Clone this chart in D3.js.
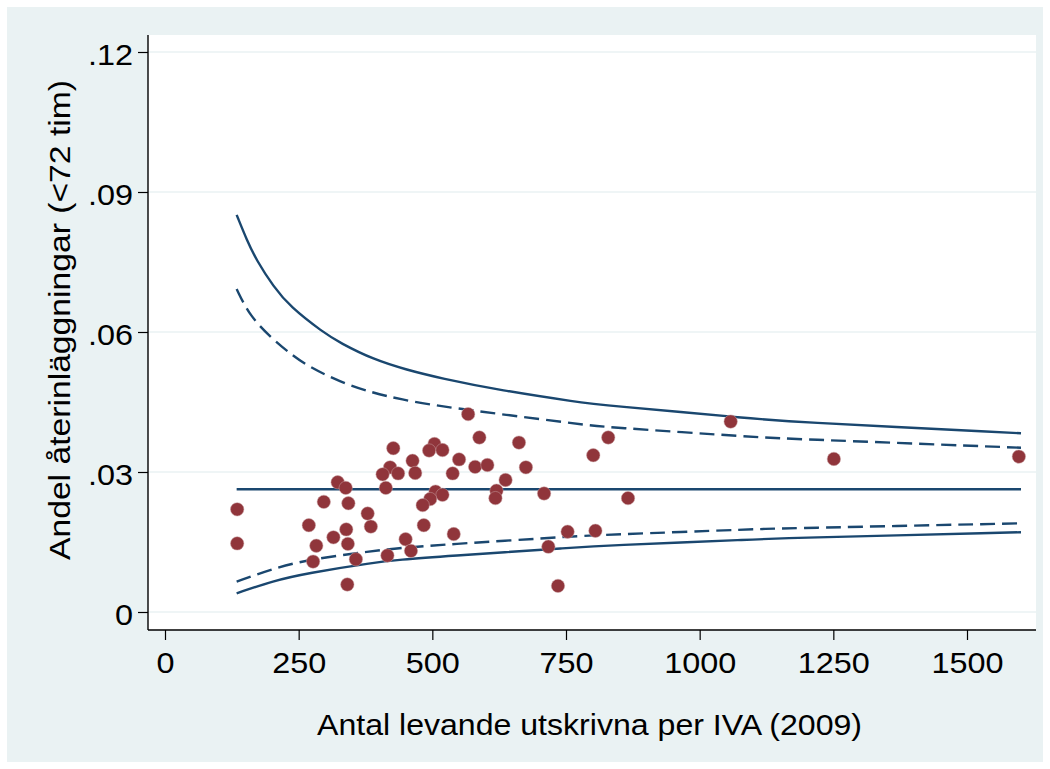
<!DOCTYPE html>
<html>
<head>
<meta charset="utf-8">
<script src="https://cdn.jsdelivr.net/npm/d3@7"></script>
<style>
  html, body { margin: 0; padding: 0; background: #ffffff; }
  svg { display: block; }
  text { font-family: "Liberation Sans", Arial, sans-serif; fill: #000; }
</style>
</head>
<body>
<svg id="chart" width="1050" height="769"></svg>
<script>
// ---- Data ----
const unitsN = [135,135,427,463,421,407,436,468,323,338,413,297,343,379,385,269,339,315,342,283,450,460,416,357,277,341,
  567,588,662,504,494,519,550,580,603,538,675,637,801,506,519,496,482,620,618,709,484,540,717,753,805,735,
  829,1058,866,1251,1597];
const unitsRate = [0.0220,0.0147,0.0351,0.0324,0.0310,0.0295,0.0297,0.0298,0.0278,0.0266,0.0266,0.0236,0.0233,0.0211,0.0183,0.0186,0.0177,0.0160,0.0146,0.0142,0.0156,0.0131,0.0121,0.0113,0.0108,0.0059,
  0.0424,0.0374,0.0363,0.0360,0.0346,0.0347,0.0327,0.0311,0.0315,0.0297,0.0310,0.0283,0.0336,0.0258,0.0251,0.0242,0.0229,0.0260,0.0244,0.0254,0.0186,0.0167,0.0140,0.0172,0.0174,0.0056,
  0.0374,0.0408,0.0244,0.0328,0.0333];

const targetRate = 0.0263;
const targetN = [134, 1601];

const upperSolidN = [134,153,171,203,234,296,327,390,452,515,627,777,815,1114,1152,1601];
const upperSolidV = [0.0851,0.0797,0.0754,0.0697,0.0654,0.0599,0.0577,0.0541,0.0519,0.0501,0.0475,0.0449,0.0444,0.0413,0.0409,0.0383];

const upperDashN = [134,159,203,234,265,327,390,440,515,787,815,1114,1152,1601];
const upperDashV = [0.0692,0.0633,0.0583,0.0554,0.0528,0.0493,0.0469,0.0456,0.0440,0.0401,0.0397,0.0374,0.0372,0.0352];

const lowerDashN = [134,203,265,390,440,515,777,815,1114,1152,1601];
const lowerDashV = [0.0065,0.0093,0.0112,0.0131,0.0137,0.0144,0.0163,0.0165,0.0178,0.0179,0.0190];

const lowerSolidN = [134,203,265,390,440,515,777,815,1114,1152,1601];
const lowerSolidV = [0.0040,0.0067,0.0083,0.0106,0.0112,0.0119,0.0139,0.0142,0.0156,0.0158,0.0171];

const xTicks = [0,250,500,750,1000,1250,1500];
const yTicks = [0,0.03,0.06,0.09,0.12];
const yTickLabels = ["0",".03",".06",".09",".12"];
const xTitle = "Antal levande utskrivna per IVA (2009)";
const yTitle = "Andel återinläggningar (<72 tim)";

// ---- Layout ----
const svg = d3.select("#chart");
const plot = {left: 148, right: 1036, top: 35, bottom: 630};
const sx = 1.08; // horizontal stretch of the reference lettering

const x = d3.scaleLinear().domain([0, 1500]).range([165, 967]);
const y = d3.scaleLinear().domain([0, 0.12]).range([612, 52]);

// outer background
svg.append("rect").attr("x", 7).attr("y", 7).attr("width", 1036).attr("height", 755)
  .attr("fill", "#EAF2F3");
// plot region
svg.append("rect").attr("x", plot.left).attr("y", plot.top)
  .attr("width", plot.right - plot.left).attr("height", plot.bottom - plot.top)
  .attr("fill", "#ffffff");

// gridlines
svg.append("g").selectAll("line").data(yTicks).join("line")
  .attr("x1", plot.left).attr("x2", plot.right)
  .attr("y1", d => y(d)).attr("y2", d => y(d))
  .attr("stroke", "#EAF2F3").attr("stroke-width", 1.6);

// axes
const yAxis = d3.axisLeft(y).tickValues(yTicks).tickSize(10).tickPadding(5)
  .tickFormat((d, i) => yTickLabels[i]);
const gy = svg.append("g").attr("transform", `translate(${plot.left},0)`).call(yAxis);
gy.select(".domain").attr("d", `M0,${plot.top}V${plot.bottom}`).attr("stroke", "#000").attr("stroke-width", 1.4);
gy.selectAll(".tick line").attr("stroke", "#000").attr("stroke-width", 1.2);
gy.selectAll(".tick text").style("font-size", "30px").attr("font-family", null)
  .attr("dy", "0.42em").attr("x", -15 / sx).attr("transform", `scale(${sx},1)`);

const xAxis = d3.axisBottom(x).tickValues(xTicks).tickSize(10).tickPadding(12)
  .tickFormat(d3.format("d"));
const gx = svg.append("g").attr("transform", `translate(0,${plot.bottom})`).call(xAxis);
gx.select(".domain").attr("d", `M${plot.left},0H${plot.right}`).attr("stroke", "#000").attr("stroke-width", 1.4);
gx.selectAll(".tick line").attr("stroke", "#000").attr("stroke-width", 1.2);
gx.selectAll(".tick text").style("font-size", "30px").attr("font-family", null)
  .attr("transform", `scale(${sx},1)`);

// titles
svg.append("text").attr("x", 589.5).attr("y", 735).attr("text-anchor", "middle")
  .attr("textLength", 545).attr("lengthAdjust", "spacingAndGlyphs")
  .style("font-size", "30px").text(xTitle);
svg.append("text").attr("transform", "translate(70,320) rotate(-90)").attr("text-anchor", "middle")
  .attr("textLength", 480).attr("lengthAdjust", "spacingAndGlyphs")
  .style("font-size", "30px").text(yTitle);

// lines
const lineColor = "#1A476F";
const line = d3.line().x(d => x(d[0])).y(d => y(d[1])).curve(d3.curveBasis);
const zip = (a, b) => a.map((v, i) => [v, b[i]]);

const g = svg.append("g").attr("fill", "none").attr("stroke", lineColor).attr("stroke-width", 2.4);
g.append("path").attr("d", line(zip(upperSolidN, upperSolidV)));
g.append("path").attr("d", line(zip(lowerSolidN, lowerSolidV)));
g.append("path").attr("d", line(zip(upperDashN, upperDashV))).attr("stroke-dasharray", "15,7");
g.append("path").attr("d", line(zip(lowerDashN, lowerDashV))).attr("stroke-dasharray", "15,7");
g.append("path").attr("d", d3.line().x(d => x(d[0])).y(d => y(d[1]))(targetN.map(n => [n, targetRate])));

// points
svg.append("g").selectAll("circle").data(zip(unitsN, unitsRate)).join("circle")
  .attr("cx", d => x(d[0])).attr("cy", d => y(d[1])).attr("r", 6.7)
  .attr("fill", "#90353B").attr("stroke", "#c9a0a3").attr("stroke-width", 0.5);
</script>
</body>
</html>
